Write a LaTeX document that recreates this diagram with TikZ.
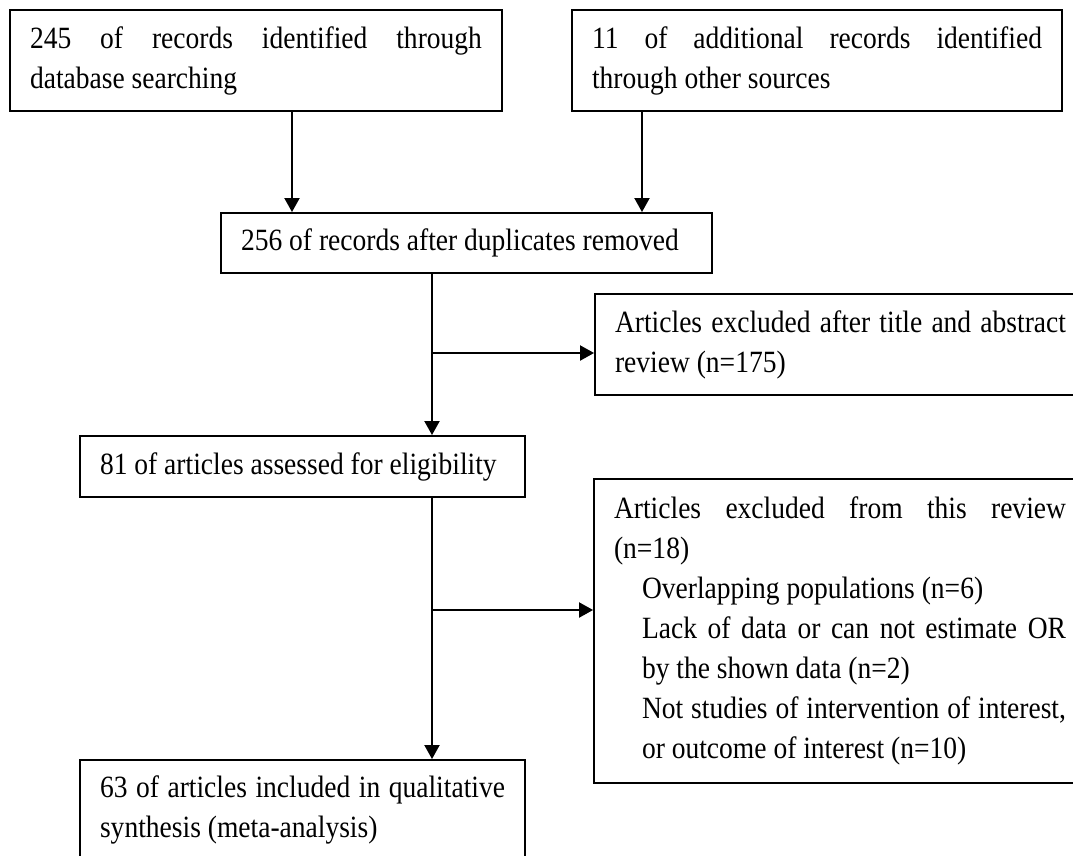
\documentclass[tikz,border=0pt]{standalone}
\usepackage{fontspec}
\setmainfont{Liberation Serif}[FakeStretch=0.89]
\usetikzlibrary{positioning, calc, arrows.meta}
\hyphenpenalty=10000
\hbadness=10000

\tikzset{
	box/.style={draw, rectangle, line width=1.1pt, inner xsep=0.4cm, inner ysep=0pt, align=justify, font=\fontsize{17.6}{22.8}\selectfont},
	arr/.style={line width=1.1pt, -{Triangle[length=0.28cm, width=0.3cm]}}
}

\begin{document}
\begin{tikzpicture}[x=0.02cm, y=-0.02cm]
		\useasboundingbox (0,0) rectangle (1073,856);
		% boxes
		\node[box, text width=9.04cm, minimum height=2.02cm] (recs) at (256,60.5) {245 of records identified through\linebreak database searching};
		\node[box, text width=9.0cm, minimum height=2.02cm] (other) at (817,60.5) {11 of additional records identified\linebreak through other sources};
		\node[box, text width=9.02cm, minimum height=1.2cm] (dedup) at (466.5,243) {256 of records after duplicates removed};
		\node[box, text width=9.02cm, minimum height=2.02cm] (excla) at (840.5,344.5) {Articles excluded after title and abstract\linebreak review (n=175)};
		\node[box, text width=8.1cm, minimum height=1.22cm] (elig) at (302.5,466.5) {81 of articles assessed for eligibility};
		\node[box, text width=9.04cm, minimum height=6.08cm] (exclb) at (840,631) {Articles excluded from this review\linebreak (n=18)\par
			\leftskip=0.56cm Overlapping populations (n=6)\par
			Lack of data or can not estimate OR\linebreak by the shown data (n=2)\par
			Not studies of intervention of interest,\linebreak or outcome of interest (n=10)\par};
		\node[box, text width=8.1cm, minimum height=2.0cm] (incl) at (302.5,810) {63 of articles included in qualitative\linebreak synthesis (meta-analysis)};
		% connectors
		\coordinate (ja) at ($(dedup.south |- excla.west)+(-34.5,8.5)$);
		\coordinate (jb) at ($(elig.south |- exclb.west)+(129.5,-21)$);
		\draw[arr] ($(recs.south)+(36,0)$) -- ($(recs.south |- dedup.north)+(36,0)$);
		\draw[arr] ($(other.south)+(-175,0)$) -- ($(other.south |- dedup.north)+(-175,0)$);
		\draw[arr] ($(dedup.south)+(-34.5,0)$) -- ($(dedup.south |- elig.north)+(-34.5,0)$);
		\draw[arr] (ja) -- (ja -| excla.west);
		\draw[arr] ($(elig.south)+(129.5,0)$) -- ($(elig.south |- incl.north)+(129.5,0)$);
		\draw[arr] (jb) -- (jb -| exclb.west);
\end{tikzpicture}
\end{document}
